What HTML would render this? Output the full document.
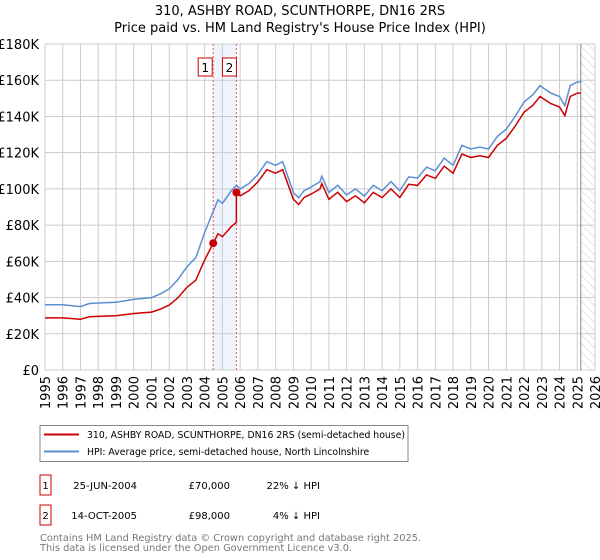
<!DOCTYPE html>
<html><head><meta charset="utf-8">
<style>
body{margin:0;background:#fff;font-family:"Liberation Sans","DejaVu Sans",sans-serif;}
#wrap{position:relative;width:600px;height:560px;overflow:hidden;}
svg text{font-family:"DejaVu Sans","Liberation Sans",sans-serif;}
</style></head>
<body>
<div id="wrap">
<svg id="chart" width="600" height="560" xmlns="http://www.w3.org/2000/svg"></svg>
</div>
<script>
const hpiYears=[1995,1996,1997,1997.5,1998,1999,2000,2001,2001.5,2002,2002.5,2003,2003.5,2004,2004.5,2004.75,2005,2005.5,2005.8,2006,2006.5,2007,2007.5,2008,2008.4,2009,2009.3,2009.6,2010,2010.5,2010.6,2011,2011.5,2012,2012.5,2013,2013.5,2014,2014.5,2015,2015.5,2016,2016.5,2017,2017.5,2018,2018.5,2019,2019.5,2020,2020.5,2021,2021.5,2022,2022.5,2022.9,2023.5,2024,2024.3,2024.6,2025,2025.2];
const hpiValues=[36,36,35,36.7,37,37.4,39,40,42,44.8,50,57,62,76,88,94,92,99,102,100,103,108,115,113,115,98,95,99,101,104,107,98,102,96.7,100,96,102,99,104,99,106.6,106,112,110,117,113,124,122,123,122,129,133,140,148,152,157,153,151,146,157,159,159];
const saleYears=[2004.48,2005.79];
const saleValues=[70,98];
const yTicks=[0,20,40,60,80,100,120,140,160,180];
const yTickLabels=["£0","£20K","£40K","£60K","£80K","£100K","£120K","£140K","£160K","£180K"];
const xTicks=[1995,1996,1997,1998,1999,2000,2001,2002,2003,2004,2005,2006,2007,2008,2009,2010,2011,2012,2013,2014,2015,2016,2017,2018,2019,2020,2021,2022,2023,2024,2025,2026];
const dataEnd=2025.2;

const svg=document.getElementById('chart');
const NS='http://www.w3.org/2000/svg';
const X0=45,X1=595,Y0=370,Y1=44;
const xs=y=>X0+(y-1995)/(2026-1995)*(X1-X0);
const ys=v=>Y0-v/180*(Y0-Y1);
function mk(t,a,p){const e=document.createElementNS(NS,t);for(const k in a)e.setAttribute(k,a[k]);(p||svg).appendChild(e);return e;}
function hpiAt(t){for(let i=0;i<hpiYears.length-1;i++){if(t<=hpiYears[i+1]){const f=(t-hpiYears[i])/(hpiYears[i+1]-hpiYears[i]);return hpiValues[i]+f*(hpiValues[i+1]-hpiValues[i]);}}return hpiValues[hpiValues.length-1];}

let t=mk('text',{x:300,y:15,'text-anchor':'middle','font-size':13,fill:'#000'});t.textContent='310, ASHBY ROAD, SCUNTHORPE, DN16 2RS';

t=mk('text',{x:300,y:32,'text-anchor':'middle','font-size':13,fill:'#000'});t.textContent="Price paid vs. HM Land Registry's House Price Index (HPI)";


let band=mk('rect',{x:xs(saleYears[0]),y:Y1,width:xs(saleYears[1])-xs(saleYears[0]),height:Y0-Y1,fill:'#eef3fc'});

const defs=mk('defs',{});
const pat=mk('pattern',{id:'hatch',width:6,height:6,patternUnits:'userSpaceOnUse',patternTransform:'rotate(-45)'},defs);
mk('line',{x1:0,y1:0,x2:0,y2:6,stroke:'#ccc','stroke-width':1},pat);
let hr=mk('rect',{x:xs(dataEnd),y:Y1,width:X1-xs(dataEnd),height:Y0-Y1,fill:'url(#hatch)'});


const grid=mk('g',{});
yTicks.forEach((v,i)=>{mk('line',{x1:X0,x2:X1,y1:ys(v),y2:ys(v),stroke:'#ccc','stroke-width':1},grid);
 const l=mk('text',{x:X0-6,y:ys(v)+5,'text-anchor':'end','font-size':13,fill:'#000'});l.textContent=yTickLabels[i];
 });
xTicks.forEach(y=>{mk('line',{x1:xs(y),x2:xs(y),y1:Y1,y2:Y0,stroke:'#ccc','stroke-width':1},grid);
 const l=mk('text',{x:0,y:0,'text-anchor':'end','font-size':13,fill:'#000',transform:`translate(${xs(y)+5},${Y0+6}) rotate(-90)`});l.textContent=y;
 });
mk('line',{x1:xs(dataEnd),x2:xs(dataEnd),y1:Y1,y2:Y0,stroke:'#888','stroke-width':1});

saleYears.forEach((s,i)=>{const l=mk('line',{x1:xs(s),x2:xs(s),y1:Y1,y2:Y0,stroke:'#e55','stroke-width':1,'stroke-dasharray':'2,2'});
 
 const bx=xs(s)-14+(i==0?-1:0);
 const r=mk('rect',{x:bx,y:58,width:14,height:18,fill:'#fff',stroke:'#c00','stroke-width':1});
 
 const tt=mk('text',{x:bx+7,y:72,'text-anchor':'middle','font-size':12,fill:'#000'});tt.textContent=i+1;});

let d='';hpiYears.forEach((y,i)=>{d+=(i?'L':'M')+xs(y).toFixed(1)+','+ys(hpiValues[i]).toFixed(1);});
let hl=mk('path',{d:d,fill:'none',stroke:'#5b8fd4','stroke-width':1.5});


const r0=saleValues[0]/hpiAt(saleYears[0]), r1=r0, r2=saleValues[1]/hpiAt(saleYears[1]);
let pts=[];
hpiYears.forEach((y,i)=>{if(y<saleYears[0])pts.push([y,hpiValues[i]*r0]);});
pts.push([saleYears[0],saleValues[0]]);
hpiYears.forEach((y,i)=>{if(y>saleYears[0]&&y<saleYears[1])pts.push([y,hpiValues[i]*r1]);});
pts.push([saleYears[1],hpiAt(saleYears[1])*r1]);
pts.push([saleYears[1],saleValues[1]]);
hpiYears.forEach((y,i)=>{if(y>saleYears[1])pts.push([y,hpiValues[i]*r2]);});
d='';pts.forEach((p,i)=>{d+=(i?'L':'M')+xs(p[0]).toFixed(1)+','+ys(p[1]).toFixed(1);});
let pl=mk('path',{d:d,fill:'none',stroke:'#cc0000','stroke-width':1.5});

saleYears.forEach((s,i)=>{const c=mk('circle',{cx:xs(s),cy:ys(saleValues[i]),r:4,fill:'#cc0000'});
 });

const lg=mk('g',{});
mk('rect',{x:40,y:425.5,width:368,height:36,fill:'#fff',stroke:'#888','stroke-width':1},lg);
mk('line',{x1:44,x2:79,y1:434.5,y2:434.5,stroke:'#cc0000','stroke-width':2},lg);
mk('line',{x1:44,x2:79,y1:451.5,y2:451.5,stroke:'#5b8fd4','stroke-width':2},lg);
t=mk('text',{x:87,y:438,'font-size':9.3,fill:'#000'},lg);t.textContent='310, ASHBY ROAD, SCUNTHORPE, DN16 2RS (semi-detached house)';

t=mk('text',{x:87,y:455,'font-size':9.3,fill:'#000'},lg);t.textContent='HPI: Average price, semi-detached house, North Lincolnshire';


const rows=[["1","25-JUN-2004","£70,000","22% ↓ HPI"],["2","14-OCT-2005","£98,000","4% ↓ HPI"]];
rows.forEach((r,i)=>{const y=487+i*30;
 const g=mk('g',{});
 mk('rect',{x:40,y:y-12,width:11,height:20,fill:'#fff',stroke:'#c00','stroke-width':1},g);
 let a=mk('text',{x:45.5,y:y+2,'text-anchor':'middle','font-size':10},g);a.textContent=r[0];
 a=mk('text',{x:137,y:y+2,'text-anchor':'end','font-size':10},g);a.textContent=r[1];
 a=mk('text',{x:230,y:y+2,'text-anchor':'end','font-size':10},g);a.textContent=r[2];
 a=mk('text',{x:320,y:y+2,'text-anchor':'end','font-size':10},g);a.textContent=r[3];});
t=mk('text',{x:40,y:541,'font-size':9.8,fill:'#777'});t.textContent='Contains HM Land Registry data © Crown copyright and database right 2025.';

t=mk('text',{x:40,y:551,'font-size':9.8,fill:'#777'});t.textContent='This data is licensed under the Open Government Licence v3.0.';

</script>
</body></html>
